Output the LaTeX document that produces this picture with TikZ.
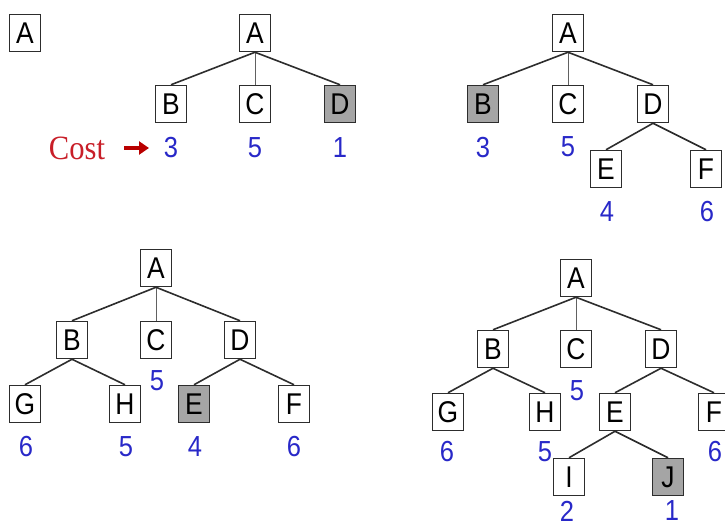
\documentclass[tikz,border=0pt]{standalone}
\usepackage{fontspec}
\setmainfont{Liberation Sans}
\newfontfamily\boxfont[FakeStretch=0.88]{Liberation Sans}
\newfontfamily\serifcost[FakeStretch=0.9]{Liberation Serif}
\usetikzlibrary{arrows.meta}
\definecolor{costblue}{RGB}{40,40,200}
\definecolor{costred}{RGB}{200,30,40}
\definecolor{arrowred}{RGB}{185,0,0}
\definecolor{boxgray}{RGB}{165,165,165}
\definecolor{linegray}{RGB}{45,45,45}
\tikzset{
  box/.style={draw=linegray, line width=1.5pt, fill=white, minimum width=31pt, minimum height=37pt, inner sep=0pt, font=\boxfont\fontsize{30}{32}\selectfont},
  goal/.style={box, fill=boxgray},
  cost/.style={text=costblue, inner sep=0pt, font=\boxfont\fontsize{29}{31}\selectfont},
  edge/.style={draw=linegray, line width=1.6pt},
  vedge/.style={draw=linegray!75, line width=1pt},
}
\begin{document}
\begin{tikzpicture}[x=1pt,y=-1pt]
\useasboundingbox (0,0) rectangle (725,527);
% Panel 1
\node[box] (p0a) at (25,33) {A};
\node[box] (p1a) at (255,33) {A};
\node[box] (p1b) at (171,104) {B};
\node[box] (p1c) at (255,104) {C};
\node[goal] (p1d) at (340,104) {D};
\draw[edge] (p1a.south) -- (p1b.north);
\draw[vedge] (p1a.south) -- (p1c.north);
\draw[edge] (p1a.south) -- (p1d.north);
\node[cost] (p1b3) at (171,148) {3};
\node[cost] (p1c5) at (255,148) {5};
\node[cost] (p1d1) at (340,148) {1};
\node[text=costred, inner sep=0pt, font=\serifcost\fontsize{34}{36}\selectfont] (costlbl) at (77,148) {Cost};
\coordinate (ar1) at (124,148);
\coordinate (ar2) at (149,148);
\draw[arrowred, line width=4.5pt, -{Triangle[length=10pt,width=13pt]}] (ar1) -- (ar2);
% Panel 2
\node[box] (p2a) at (568,33) {A};
\node[goal] (p2b) at (483,104) {B};
\node[box] (p2c) at (568,104) {C};
\node[box] (p2d) at (653,104) {D};
\node[box] (p2e) at (606,169) {E};
\node[box] (p2f) at (706,169) {F};
\draw[edge] (p2a.south) -- (p2b.north);
\draw[vedge] (p2a.south) -- (p2c.north);
\draw[edge] (p2a.south) -- (p2d.north);
\draw[edge] (p2d.south) -- (p2e.north);
\draw[edge] (p2d.south) -- (p2f.north);
\node[cost] (p2b3) at (483,148) {3};
\node[cost] (p2c5) at (568,147) {5};
\node[cost] (p2e4) at (607,212) {4};
\node[cost] (p2f6) at (707,212) {6};
% Panel 3
\node[box] (p3a) at (156,268) {A};
\node[box] (p3b) at (72,340) {B};
\node[box] (p3c) at (156,340) {C};
\node[box] (p3d) at (240,340) {D};
\node[box] (p3g) at (25,404) {G};
\node[box] (p3h) at (125,404) {H};
\node[goal] (p3e) at (194,404) {E};
\node[box] (p3f) at (294,404) {F};
\draw[edge] (p3a.south) -- (p3b.north);
\draw[vedge] (p3a.south) -- (p3c.north);
\draw[edge] (p3a.south) -- (p3d.north);
\draw[edge] (p3b.south) -- (p3g.north);
\draw[edge] (p3b.south) -- (p3h.north);
\draw[edge] (p3d.south) -- (p3e.north);
\draw[edge] (p3d.south) -- (p3f.north);
\node[cost] (p3c5) at (157,381) {5};
\node[cost] (p3g6) at (26,447) {6};
\node[cost] (p3h5) at (126,447) {5};
\node[cost] (p3e4) at (195,447) {4};
\node[cost] (p3f6) at (294,447) {6};
% Panel 4
\node[box] (p4a) at (576,278) {A};
\node[box] (p4b) at (493,349) {B};
\node[box] (p4c) at (576,349) {C};
\node[box] (p4d) at (661,349) {D};
\node[box] (p4g) at (448,412) {G};
\node[box] (p4h) at (545,412) {H};
\node[box] (p4e) at (615,412) {E};
\node[box] (p4f) at (714,412) {F};
\node[box] (p4i) at (569,477) {I};
\node[goal] (p4j) at (668,477) {J};
\draw[edge] (p4a.south) -- (p4b.north);
\draw[vedge] (p4a.south) -- (p4c.north);
\draw[edge] (p4a.south) -- (p4d.north);
\draw[edge] (p4b.south) -- (p4g.north);
\draw[edge] (p4b.south) -- (p4h.north);
\draw[edge] (p4d.south) -- (p4e.north);
\draw[edge] (p4d.south) -- (p4f.north);
\draw[edge] (p4e.south) -- (p4i.north);
\draw[edge] (p4e.south) -- (p4j.north);
\node[cost] (p4c5) at (577,391) {5};
\node[cost] (p4g6) at (447,452) {6};
\node[cost] (p4h5) at (545,452) {5};
\node[cost] (p4f6) at (715,452) {6};
\node[cost] (p4i2) at (567,511) {2};
\node[cost] (p4j1) at (672,511) {1};
\end{tikzpicture}
\end{document}
